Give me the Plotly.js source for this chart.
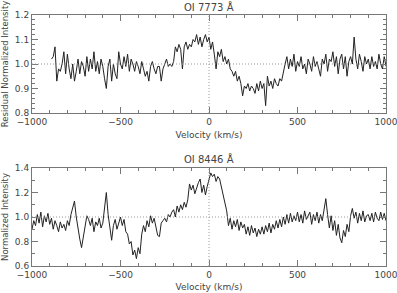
<!DOCTYPE html>
<html>
<head>
<meta charset="utf-8">
<script src="https://cdn.plot.ly/plotly-3.0.1.min.js"></script>
<style>html,body{margin:0;padding:0;background:#fff;}#chart{width:397px;height:293px;}</style>
</head>
<body>
<div id="chart"></div>
<script>
// Top panel: OI 7773, velocity starts at -890 km/s, step 10
const topStart = -890;
const topStep = 10;
const topIntensity = [
  1.02, 1.03, 1.07, 0.93, 0.98, 0.97, 1.00, 1.05, 0.96, 1.04,
  0.98, 0.94, 1.00, 0.93, 0.97, 1.02, 0.96, 1.01, 0.99, 0.95,
  1.03, 0.97, 1.02, 0.98, 1.05, 0.97, 1.01, 0.96, 1.02, 0.99,
  0.94, 0.90, 0.99, 1.02, 0.93, 1.00, 0.96, 0.94, 1.05, 1.00,
  0.98, 1.03, 0.99, 1.04, 0.97, 1.02, 1.00, 0.97, 1.01, 0.99,
  0.96, 1.01, 0.98, 0.95, 0.97, 0.93, 0.99, 1.01, 0.98, 0.96,
  0.99, 0.99, 0.93, 0.98, 1.00, 1.02, 0.99, 1.00, 0.99, 1.01,
  1.07, 1.05, 1.08, 1.06, 0.98, 1.07, 1.09, 1.06, 1.08, 1.07,
  1.10, 1.09, 1.12, 1.08, 1.11, 1.07, 1.10, 1.12, 1.09, 1.11,
  1.06, 1.09, 1.04, 0.98, 1.05, 1.03, 1.06, 1.01, 1.03, 1.00,
  1.02, 0.98, 0.97, 0.95, 0.97, 0.93, 0.95, 0.92, 0.87, 0.91,
  0.90, 0.92, 0.89, 0.91, 0.90, 0.88, 0.92, 0.89, 0.93, 0.90,
  0.92, 0.83, 0.95, 0.91, 0.93, 0.90, 0.94, 0.92, 0.91, 0.94,
  0.93, 0.97, 1.00, 1.03, 0.98, 1.02, 0.99, 1.04, 0.97, 1.01,
  0.99, 1.03, 0.98, 1.00, 0.96, 1.02, 1.00, 0.97, 1.03, 0.99,
  1.01, 0.98, 0.95, 1.02, 1.00, 1.04, 0.97, 1.02, 1.01, 1.05,
  0.99, 1.03, 0.96, 1.02, 1.04, 0.98, 1.03, 0.95, 1.01, 1.03,
  1.00, 1.11, 1.02, 0.98, 1.04, 1.01, 0.97, 1.03, 1.00, 1.02,
  0.98, 1.03, 0.99, 1.01, 0.98, 1.04, 1.00, 0.98, 1.03, 0.99
];
// Bottom panel: OI 8446, velocity starts at -1000 km/s, step 10
const botStart = -1000;
const botStep = 10;
const botIntensity = [
  0.90, 0.97, 0.93, 1.02, 0.95, 1.04, 0.92, 1.01, 0.96, 1.03,
  0.94, 0.99, 0.90, 0.97, 0.93, 0.88, 0.96, 0.91, 0.94, 0.89,
  0.97, 0.93, 1.02, 1.07, 1.13, 1.00, 0.90, 0.82, 0.75, 0.84,
  0.92, 1.01, 0.98, 0.93, 0.99, 0.88, 0.96, 0.93, 0.99, 0.91,
  0.95, 1.10, 1.20, 1.02, 0.90, 0.81, 0.93, 0.98, 0.90, 0.95,
  1.00, 0.93, 0.98, 0.88, 0.86, 0.78, 0.80, 0.69, 0.73, 0.66,
  0.75, 0.70, 0.86, 0.93, 0.88, 0.97, 0.92, 1.01, 0.95, 0.99,
  0.93, 0.85, 0.84, 0.95, 0.97, 0.99, 0.96, 1.02, 1.00, 1.04,
  1.06, 1.00, 1.09, 1.04, 1.10, 1.06, 1.12, 1.08, 1.14, 1.27,
  1.22, 1.26, 1.19, 1.24, 1.28, 1.31, 1.20, 1.26, 1.18, 1.25,
  1.30, 1.36, 1.33, 1.35, 1.29, 1.33, 1.31, 1.24, 1.18, 1.12,
  1.05, 0.93, 0.99, 0.90, 0.97, 0.92, 0.98, 0.89, 0.96, 0.91,
  0.94, 0.86, 0.92, 0.85, 0.93, 0.87, 0.91, 0.84, 0.90, 0.86,
  0.92, 0.86, 0.93, 0.88, 0.95, 0.87, 0.94, 0.90, 0.97, 0.91,
  0.98, 0.92, 1.00, 0.94, 1.02, 0.95, 1.03, 0.96, 1.01, 0.97,
  1.04, 0.96, 1.02, 0.95, 1.05, 0.98, 1.01, 1.04, 0.94, 1.02,
  0.97, 1.04, 0.95, 1.02, 0.97, 1.06, 1.15, 1.02, 0.91, 1.01,
  0.89, 0.97, 0.85, 0.94, 0.83, 0.79, 0.89, 0.84, 0.94, 0.88,
  1.01, 1.07, 0.99, 1.04, 0.95, 1.03, 0.97, 1.05, 0.96, 1.01,
  1.02, 0.97, 1.03, 0.96, 1.04, 0.99, 0.97, 1.04, 0.98, 1.03,
  0.97
];
const xTickVals = [-1000, -500, 0, 500, 1000];
const topTickVals = [0.8, 0.9, 1.0, 1.1, 1.2];
const botTickVals = [0.6, 0.8, 1.0, 1.2, 1.4];
const topTitle = 'OI 7773 Å';
const botTitle = 'OI 8446 Å';
const xTitle = 'Velocity (km/s)';
const topYTitle = 'Residual Normalized Intensity';
const botYTitle = 'Normalized Intensity';

const topV = topIntensity.map((_, i) => topStart + i * topStep);
const botV = botIntensity.map((_, i) => botStart + i * botStep);

const FF = 'DejaVu Sans, sans-serif';
const TXT = '#444';
const axisCommon = {
  showline: true, linecolor: '#777', linewidth: 1, mirror: 'ticks',
  ticks: 'inside', ticklen: 6, tickcolor: '#777', tickwidth: 1,
  showgrid: false, zeroline: false, ticklabeloverflow: 'allow',
  tickfont: {family: FF, size: 9, color: TXT}
};
const lineStyle = {color: '#222', width: 1};
const dotLine = {color: '#999', width: 1, dash: '1px,2px'};

const data = [
  {x: topV, y: topIntensity, xaxis: 'x', yaxis: 'y', type: 'scatter', mode: 'lines', line: lineStyle, hoverinfo: 'skip'},
  {x: botV, y: botIntensity, xaxis: 'x2', yaxis: 'y2', type: 'scatter', mode: 'lines', line: lineStyle, hoverinfo: 'skip'}
];

const layout = {
  width: 397, height: 293,
  margin: {l: 32, r: 11, t: 15, b: 27},
  paper_bgcolor: '#fff', plot_bgcolor: '#fff',
  showlegend: false,
  font: {family: FF, size: 9, color: TXT},
  xaxis: Object.assign({}, axisCommon, {
    domain: [0, 1], anchor: 'y', range: [-1000, 1000],
    tickvals: xTickVals, minor: {dtick: 100, ticks: 'inside', ticklen: 3, tickcolor: '#777'},
    title: {text: xTitle, font: {family: FF, size: 9, color: TXT}, standoff: 5}
  }),
  yaxis: Object.assign({}, axisCommon, {
    domain: [0.6096, 1], anchor: 'x', range: [0.8, 1.2],
    tickvals: topTickVals, tickformat: '.1f',
    minor: {dtick: 0.02, ticks: 'inside', ticklen: 3, tickcolor: '#777'},
    title: {text: topYTitle, font: {family: FF, size: 8.5, color: TXT}, standoff: 4}
  }),
  xaxis2: Object.assign({}, axisCommon, {
    domain: [0, 1], anchor: 'y2', range: [-1000, 1000],
    tickvals: xTickVals, minor: {dtick: 100, ticks: 'inside', ticklen: 3, tickcolor: '#777'},
    title: {text: xTitle, font: {family: FF, size: 9, color: TXT}, standoff: 4}
  }),
  yaxis2: Object.assign({}, axisCommon, {
    domain: [0, 0.3904], anchor: 'x2', range: [0.6, 1.4],
    tickvals: botTickVals, tickformat: '.1f',
    minor: {dtick: 0.1, ticks: 'inside', ticklen: 3, tickcolor: '#777'},
    title: {text: botYTitle, font: {family: FF, size: 8.5, color: TXT}, standoff: 4}
  }),
  shapes: [
    {type: 'line', xref: 'x domain', yref: 'y', x0: 0, x1: 1, y0: 1, y1: 1, line: dotLine},
    {type: 'line', xref: 'x', yref: 'y domain', x0: 0, x1: 0, y0: 0, y1: 1, line: dotLine},
    {type: 'line', xref: 'x2 domain', yref: 'y2', x0: 0, x1: 1, y0: 1, y1: 1, line: dotLine},
    {type: 'line', xref: 'x2', yref: 'y2 domain', x0: 0, x1: 0, y0: 0, y1: 1, line: dotLine}
  ],
  annotations: [
    {text: topTitle, xref: 'paper', yref: 'paper', x: 0.5, y: 1, yshift: 0, xanchor: 'center', yanchor: 'bottom', showarrow: false, font: {family: FF, size: 10, color: TXT}},
    {text: botTitle, xref: 'paper', yref: 'paper', x: 0.5, y: 0.3904, yshift: 1, xanchor: 'center', yanchor: 'bottom', showarrow: false, font: {family: FF, size: 10, color: TXT}}
  ]
};

Plotly.newPlot('chart', data, layout, {staticPlot: true, displayModeBar: false});
</script>
</body>
</html>
